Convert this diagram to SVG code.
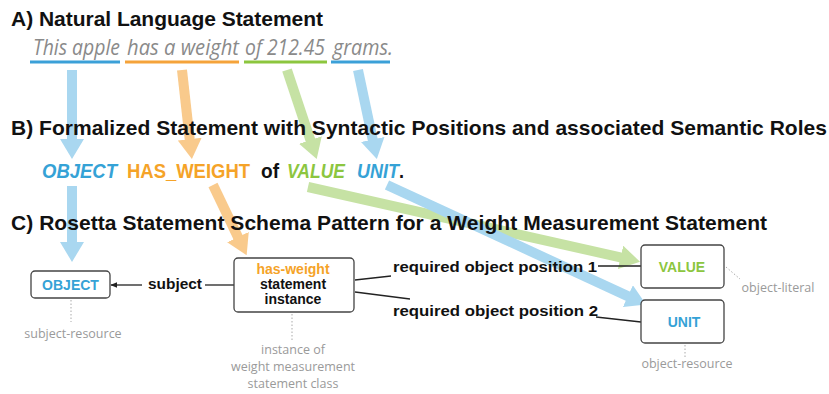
<svg xmlns="http://www.w3.org/2000/svg" width="829" height="394" viewBox="0 0 829 394">
<style>
.title{font-family:"Liberation Sans",Arial,sans-serif;font-weight:bold;font-size:21px;fill:#111}
.sent{font-family:"Open Sans","DejaVu Sans",sans-serif;font-style:italic;font-size:22px;fill:#8a8a8a}
.form{font-family:"Liberation Sans",Arial,sans-serif;font-weight:bold;font-size:20px}
.it{font-style:italic}
.blue{fill:#35a2d6}
.orange{fill:#f5a328}
.green{fill:#8cc63f}
.black{fill:#111}
.lbl{font-family:"Liberation Sans",Arial,sans-serif;font-weight:bold;font-size:15px;fill:#111}
.node{fill:#fff;stroke:#444;stroke-width:1.3}
.ntxt{font-family:"Liberation Sans",Arial,sans-serif;font-weight:bold;font-size:14px;text-anchor:middle}
.gray{font-family:"Open Sans","DejaVu Sans",sans-serif;font-size:12.5px;fill:#9a9a9a;text-anchor:middle}
.dot{stroke:#aaa;stroke-width:1;stroke-dasharray:1.5 2;fill:none}
.conn{stroke:#222;stroke-width:1.3;fill:none}
.ul{stroke-width:3;fill:none}
.fat{stroke-width:10;fill:none;stroke-linecap:butt}
</style>
<defs>
<marker id="hb" viewBox="0 0 10 12" refX="0.5" refY="6" markerWidth="2" markerHeight="2.4" orient="auto" markerUnits="strokeWidth"><path d="M0,0 L10,6 L0,12 z" fill="#a9d7f0"/></marker>
<marker id="ho" viewBox="0 0 10 12" refX="0.5" refY="6" markerWidth="2" markerHeight="2.4" orient="auto" markerUnits="strokeWidth"><path d="M0,0 L10,6 L0,12 z" fill="#f9ca8c"/></marker>
<marker id="hg" viewBox="0 0 10 12" refX="0.5" refY="6" markerWidth="2" markerHeight="2.4" orient="auto" markerUnits="strokeWidth"><path d="M0,0 L10,6 L0,12 z" fill="#c6e2a4"/></marker>
<marker id="hk" viewBox="0 0 10 10" refX="9" refY="5" markerWidth="7" markerHeight="7" orient="auto" markerUnits="userSpaceOnUse"><path d="M0,1 L10,5 L0,9 z" fill="#222"/></marker>
</defs>

<!-- big semantic arrows -->
<g id="role-arrows">
<line class="fat" x1="72" y1="70" x2="72" y2="140" stroke="#a9d7f0" marker-end="url(#hb)"/>
<line class="fat" x1="182" y1="70" x2="189.8" y2="140.1" stroke="#f9ca8c" marker-end="url(#ho)"/>
<line class="fat" x1="287" y1="70" x2="310.7" y2="141" stroke="#c6e2a4" marker-end="url(#hg)"/>
<line class="fat" x1="358" y1="70" x2="372.9" y2="140.4" stroke="#a9d7f0" marker-end="url(#hb)"/>
<line class="fat" x1="72" y1="186" x2="72" y2="243" stroke="#a9d7f0" marker-end="url(#hb)"/>
<line class="fat" x1="213" y1="185" x2="238.4" y2="238" stroke="#f9ca8c" marker-end="url(#ho)"/>
<line class="fat" x1="308" y1="187" x2="621.5" y2="257.6" stroke="#c6e2a4" marker-end="url(#hg)"/>
<line class="fat" x1="387" y1="185" x2="628.8" y2="296.6" stroke="#a9d7f0" marker-end="url(#hb)"/>
</g>

<!-- titles -->
<text class="title" x="11" y="26" textLength="312">A) Natural Language Statement</text>
<text class="title" x="11" y="135" textLength="816">B) Formalized Statement with Syntactic Positions and associated Semantic Roles</text>
<text class="title" x="11" y="230" textLength="756">C) Rosetta Statement Schema Pattern for a Weight Measurement Statement</text>

<!-- A) sentence -->
<g id="sentence">
<text class="sent" x="33" y="55" textLength="87" lengthAdjust="spacingAndGlyphs">This apple</text>
<text class="sent" x="127" y="55" textLength="112" lengthAdjust="spacingAndGlyphs">has a weight</text>
<text class="sent" x="245" y="55" textLength="80" lengthAdjust="spacingAndGlyphs">of 212.45</text>
<text class="sent" x="333" y="55" textLength="60" lengthAdjust="spacingAndGlyphs">grams.</text>
<line class="ul" x1="30" y1="62" x2="120" y2="62" stroke="#3ba0d8"/>
<line class="ul" x1="125" y1="62" x2="239" y2="62" stroke="#f5a33a"/>
<line class="ul" x1="244" y1="62" x2="327" y2="62" stroke="#8cc63e"/>
<line class="ul" x1="331" y1="62" x2="390" y2="62" stroke="#3ba0d8"/>
</g>

<!-- B) formalized statement -->
<g id="formal">
<text class="form it blue" x="42" y="178" textLength="75" lengthAdjust="spacingAndGlyphs">OBJECT</text>
<text class="form orange" x="127" y="178" textLength="123" lengthAdjust="spacingAndGlyphs">HAS_WEIGHT</text>
<text class="form black" x="261" y="178" textLength="18" lengthAdjust="spacingAndGlyphs">of</text>
<text class="form it green" x="287" y="178" textLength="58" lengthAdjust="spacingAndGlyphs">VALUE</text>
<text class="form" x="357" y="178" textLength="47" lengthAdjust="spacingAndGlyphs"><tspan class="it blue">UNIT</tspan><tspan class="black">.</tspan></text>
</g>

<!-- connectors -->
<g id="connectors">
<line class="conn" x1="142" y1="285" x2="111" y2="285" marker-end="url(#hk)"/>
<line class="conn" x1="205" y1="285" x2="234" y2="285"/>
<line class="conn" x1="355" y1="280" x2="391" y2="276"/>
<line class="conn" x1="598" y1="266" x2="641" y2="266"/>
<line class="conn" x1="355" y1="292" x2="410" y2="299"/>
<line class="conn" x1="596" y1="317" x2="641" y2="322"/>
<line class="dot" x1="71" y1="300" x2="71" y2="322"/>
<line class="dot" x1="292" y1="314" x2="292" y2="340"/>
<line class="dot" x1="726" y1="267" x2="740" y2="279"/>
<line class="dot" x1="685" y1="345" x2="685" y2="358"/>
</g>
<text class="lbl" x="148" y="289" textLength="54" lengthAdjust="spacingAndGlyphs">subject</text>
<text class="lbl" x="393" y="272" font-size="16.5" textLength="204" lengthAdjust="spacingAndGlyphs">required object position 1</text>
<text class="lbl" x="393" y="316" font-size="16.5" textLength="205" lengthAdjust="spacingAndGlyphs">required object position 2</text>

<!-- C) nodes -->
<g id="node-object">
<rect class="node" x="31" y="271" width="79" height="27" rx="4"/>
<text class="ntxt blue" x="70.5" y="290">OBJECT</text>
<text class="gray" x="73" y="338">subject-resource</text>
</g>
<g id="node-statement">
<rect class="node" x="234" y="258" width="120" height="54" rx="4"/>
<text class="ntxt orange" x="293" y="274" font-size="15">has-weight</text>
<text class="ntxt black" x="293" y="289" font-size="15">statement</text>
<text class="ntxt black" x="293" y="304" font-size="15">instance</text>
<text class="gray" x="293" y="354">instance of</text>
<text class="gray" x="293" y="371">weight measurement</text>
<text class="gray" x="293" y="388">statement class</text>
</g>
<g id="node-value">
<rect class="node" x="641" y="245" width="83" height="43" rx="4"/>
<text class="ntxt green" x="682" y="272">VALUE</text>
<text class="gray" x="778" y="292">object-literal</text>
</g>
<g id="node-unit">
<rect class="node" x="641" y="300" width="83" height="43" rx="4"/>
<text class="ntxt blue" x="684" y="327">UNIT</text>
<text class="gray" x="687" y="368">object-resource</text>
</g>
</svg>
